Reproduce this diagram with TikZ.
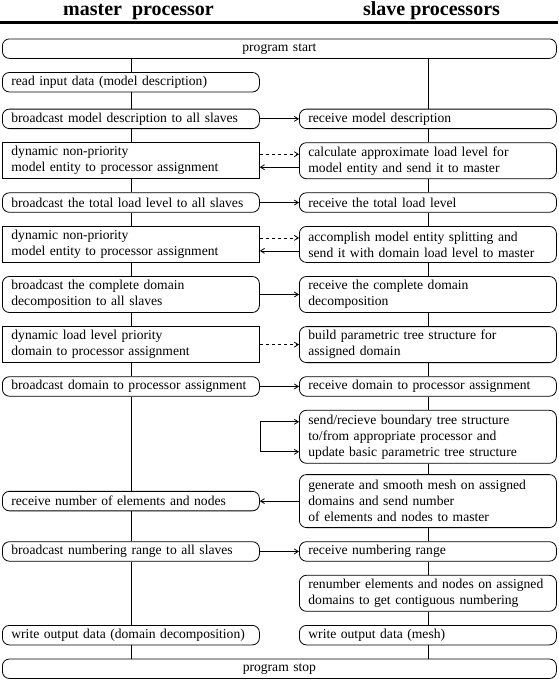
\documentclass[tikz,border=0pt]{standalone}
\usepackage{fontspec}
\setmainfont{Liberation Serif}
\usetikzlibrary{positioning,arrows.meta}

\begin{document}
\begin{tikzpicture}[x=1pt, y=1pt, node distance=13.3pt and 39.2pt, line width=0.8pt,
  >={Straight Barb[length=4pt,width=5pt]},
  every node/.style={font=\fontsize{13.6}{16}\selectfont},
  task/.style={rectangle, draw, rounded corners=7pt, text width=239pt, align=left,
    inner xsep=9pt, inner ysep=2pt, minimum height=19.5pt},
  assign/.style={task, sharp corners},
  wide/.style={task, text width=536pt, align=center},
  two/.style={minimum height=36pt},
  three/.style={minimum height=53pt},
  title/.style={font=\fontsize{20}{24}\selectfont\bfseries, anchor=base}]
  \useasboundingbox (0,0) rectangle (558,-680);

  % Header
  \node[title] (mastertitle) at (138.5,-15) {master~~processor};
  \node[title] (slavetitle) at (431.5,-15) {slave processors};
  \draw[line width=2.4pt] (0,-22.5) -- (558,-22.5);

  % Nodes
  \node[wide, anchor=north west] (start) at (2,-38.5) {program start};
  \node[task, below=of start.south west, anchor=north west] (read) {read input data (model description)};
  \node[task, below=16.3pt of read] (bcmodel) {broadcast model description to all slaves};
  \node[task, right=of bcmodel] (recmodel) {receive model description};
  \node[assign, two, below=of bcmodel] (dynentity) {dynamic non-priority\\model entity to processor assignment};
  \node[task, two, right=of dynentity] (loadcalc) {calculate approximate load level for\\model entity and send it to master};
  \node[task, below=of dynentity] (bctotal) {broadcast the total load level to all slaves};
  \node[task, right=of bctotal] (rectotal) {receive the total load level};
  \node[assign, two, below=of bctotal] (dynsplit) {dynamic non-priority\\model entity to processor assignment};
  \node[task, two, right=of dynsplit] (split) {accomplish model entity splitting and\\send it with domain load level to master};
  \node[task, two, below=of dynsplit] (bcdecomp) {broadcast the complete domain\\decomposition to all slaves};
  \node[task, two, right=of bcdecomp] (recdecomp) {receive the complete domain\\decomposition};
  \node[assign, two, below=of bcdecomp] (dyndomain) {dynamic load level priority\\domain to processor assignment};
  \node[task, two, right=of dyndomain] (buildtree) {build parametric tree structure for\\assigned domain};
  \node[task, below=of dyndomain] (bcassign) {broadcast domain to processor assignment};
  \node[task, right=of bcassign] (recassign) {receive domain to processor assignment};
  \node[task, three, below=of recassign] (boundary) {send/recieve boundary tree structure\\to/from appropriate processor and\\update basic parametric tree structure};
  \node[task, three, below=10.5pt of boundary] (mesh) {generate and smooth mesh on assigned\\domains and send number\\of elements and nodes to master};
  \node[task, left=of mesh] (recnum) {receive number of elements and nodes};
  \node[task, below=of mesh] (recrange) {receive numbering range};
  \node[task, left=of recrange] (bcrange) {broadcast numbering range to all slaves};
  \node[task, two, below=of recrange] (renumber) {renumber elements and nodes on assigned\\domains to get contiguous numbering};
  \node[task, below=of renumber] (writemesh) {write output data (mesh)};
  \node[task, left=of writemesh] (writedecomp) {write output data (domain decomposition)};
  \node[wide, below=of writedecomp.south west, anchor=north west] (stop) {program stop};

  % Master and slave lines
  \draw (start.south -| read) -- (read);
  \foreach \a/\b in {read/bcmodel, bcmodel/dynentity, dynentity/bctotal, bctotal/dynsplit,
      dynsplit/bcdecomp, bcdecomp/dyndomain, dyndomain/bcassign, bcassign/recnum,
      recnum/bcrange, bcrange/writedecomp}
    \draw (\a) -- (\b);
  \draw (writedecomp) -- (writedecomp |- stop.north);
  \draw (start.south -| recmodel) -- (recmodel);
  \foreach \a/\b in {recmodel/loadcalc, loadcalc/rectotal, rectotal/split, split/recdecomp,
      recdecomp/buildtree, buildtree/recassign, recassign/boundary, boundary/mesh,
      mesh/recrange, recrange/renumber, renumber/writemesh}
    \draw (\a) -- (\b);
  \draw (writemesh) -- (writemesh |- stop.north);

  % Arrows
  \draw[->] (bcmodel) -- (recmodel);
  \draw[->, dashed] ([yshift=6.5pt]dynentity.east) -- ([yshift=6.5pt]loadcalc.west);
  \draw[->] ([yshift=-6.5pt]loadcalc.west) -- ([yshift=-6.5pt]dynentity.east);
  \draw[->] (bctotal) -- (rectotal);
  \draw[->, dashed] ([yshift=6.5pt]dynsplit.east) -- ([yshift=6.5pt]split.west);
  \draw[->] ([yshift=-6.5pt]split.west) -- ([yshift=-6.5pt]dynsplit.east);
  \draw[->] (bcdecomp) -- (recdecomp);
  \draw[->, dashed] (dyndomain) -- (buildtree);
  \draw[->] (bcassign) -- (recassign);
  \draw[<->] ([yshift=15pt]boundary.west) -- ++(-39,0) |- ([yshift=-15pt]boundary.west);
  \draw[->] (mesh) -- (recnum);
  \draw[->] (bcrange) -- (recrange);
\end{tikzpicture}
\end{document}
